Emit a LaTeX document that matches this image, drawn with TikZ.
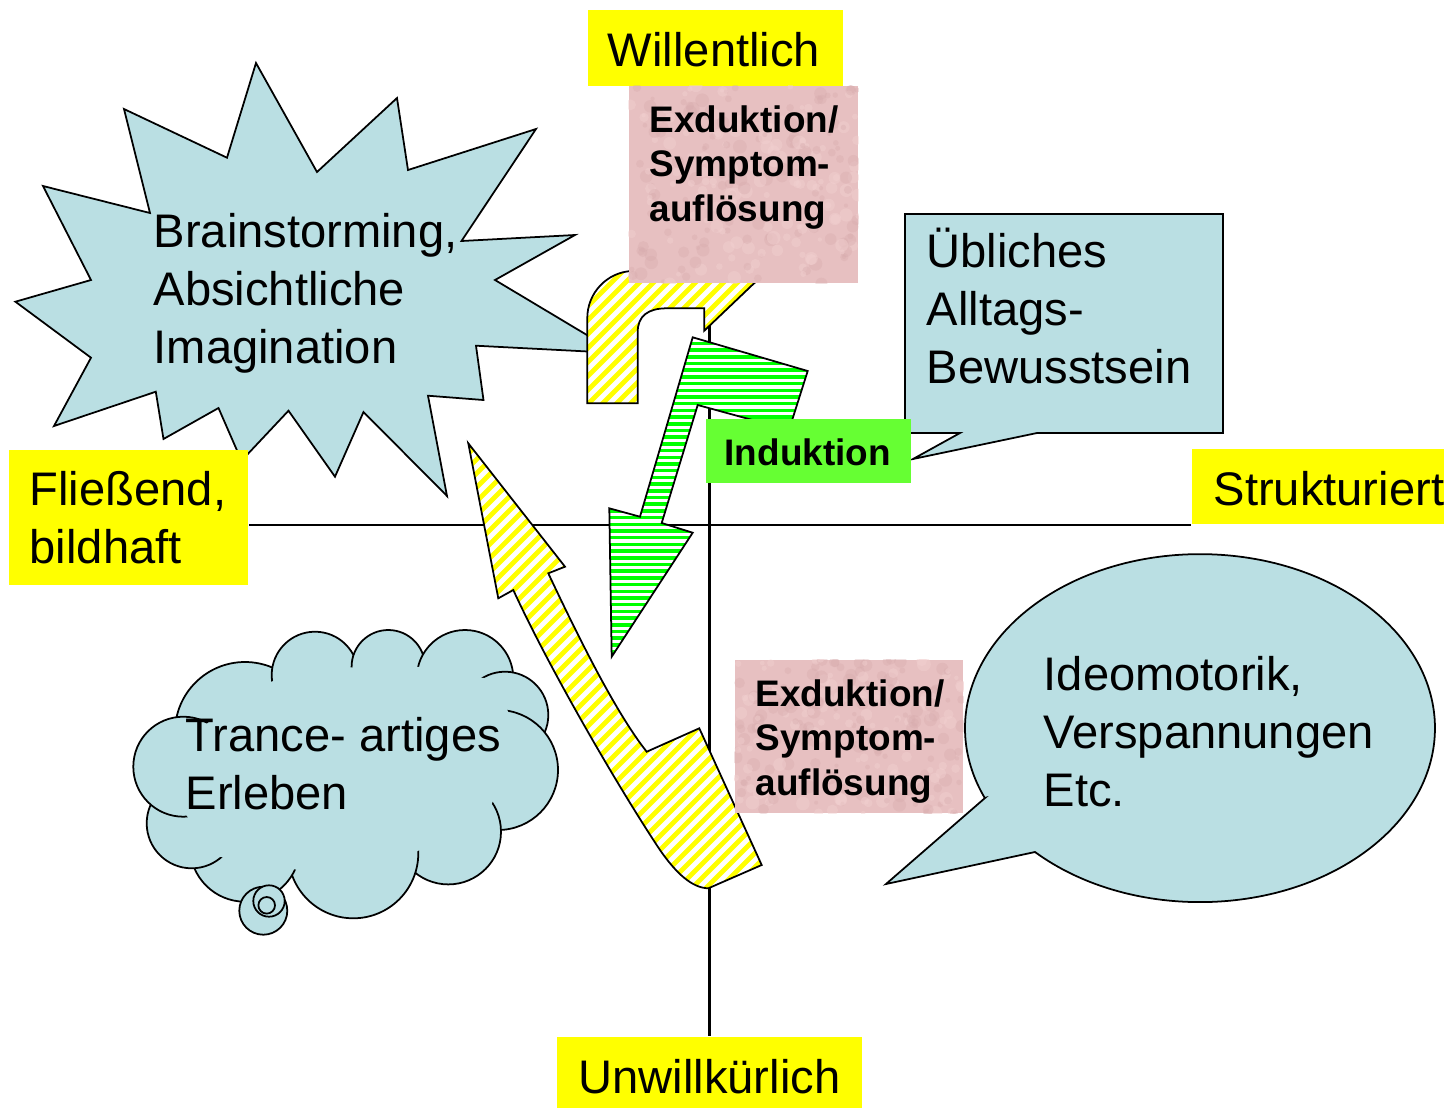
\documentclass[tikz,border=0pt]{standalone}
\usepackage{fontspec}
\setmainfont{Liberation Sans}
\usetikzlibrary{calc}

\definecolor{calloutblue}{RGB}{186,223,227}
\definecolor{labelyellow}{RGB}{255,255,0}
\definecolor{rosefill}{RGB}{231,192,193}
\definecolor{rosedark}{RGB}{214,170,172}
\definecolor{roselight}{RGB}{242,208,208}
\definecolor{indgreen}{RGB}{102,255,51}
\definecolor{stripegreen}{RGB}{0,255,0}

\pgfdeclarelayer{background}
\pgfsetlayers{background,main}

\begin{document}
\begin{tikzpicture}[x=0.01cm,y=-0.01cm,
  shapeline/.style={draw=black, line width=0.5pt, line join=miter},
  bubble/.style={shapeline, fill=calloutblue},
  % diagonal yellow stripes on white
  yhatch/.style={shapeline, fill=white, path picture={
    \foreach \sv in {600,614,...,1750}
      \draw[labelyellow, line width=1.4pt] (\sv,0) -- ({\sv-1200},1200);}},
  % horizontal green stripes on white
  ghatch/.style={shapeline, fill=white, path picture={
    \foreach \sv in {330,336.7,...,665}
      \draw[stripegreen, line width=1.0pt] (590,\sv) -- (830,\sv);}},
  axisline/.style={draw=black, line width=0.6pt},
  labeltag/.style={rectangle, inner sep=0pt, fill=labelyellow},
  rosebox/.style={rectangle, inner sep=0pt, fill=rosefill},
  greenbox/.style={rectangle, inner sep=0pt, fill=indgreen},
  bigtext/.style={inner sep=0pt, anchor=base west, font=\fontsize{13.4}{16.5}\selectfont},
  boldtext/.style={inner sep=0pt, anchor=base west, font=\fontsize{10.5}{12.66}\selectfont\bfseries},
]
\useasboundingbox (0,0) rectangle (1444,1108);

% ---------- starburst ----------
\draw[bubble] (256,63) -- (317,172) -- (397,98) -- (408,170) -- (536,129)
  -- (461.5,241) -- (575,235) -- (495,280) -- (617,353) -- (476,345.7)
  -- (483.5,400) -- (428,395.7) -- (447,496) -- (363.5,412) -- (335,476.7)
  -- (288.5,410.7) -- (241.5,460.7) -- (218.5,408) -- (163.5,439)
  -- (155.8,391.7) -- (54,426) -- (91,357.7) -- (15.4,301.7) -- (91,280)
  -- (43,186) -- (150,213) -- (124,109) -- (227,157.7) -- cycle;

% ---------- thought cloud ----------
\foreach \cx/\cy/\r in {245/732/70, 315/675/43.3, 388.3/666.7/36.7,
  465/678.3/48.3, 505/715/43.3, 498/770/60, 448.3/831.7/52.7,
  353.3/853.3/65, 245/846.7/55, 191.7/823.3/45, 183.3/766.7/50}
  \draw[bubble] (\cx,\cy) circle[radius=\r];
\coordinate (cloudc) at (345,770);
\fill[calloutblue]
  ($(173.3,726.7)!0.12!(cloudc)$) -- ($(271.7,663.3)!0.12!(cloudc)$)
  -- ($(353.3,653.3)!0.12!(cloudc)$) -- ($(421.7,651.7)!0.12!(cloudc)$)
  -- ($(510,666.7)!0.12!(cloudc)$) -- ($(546.7,733.3)!0.12!(cloudc)$)
  -- ($(501.7,830)!0.12!(cloudc)$) -- ($(416.7,866.7)!0.12!(cloudc)$)
  -- ($(290,883.3)!0.12!(cloudc)$) -- ($(191.7,866.7)!0.12!(cloudc)$)
  -- ($(153.3,801.7)!0.12!(cloudc)$) -- cycle;
\draw[bubble] (263.3,910.7) circle[radius=24];
\draw[bubble] (269,901) circle[radius=15.7];
\draw[bubble] (266.7,905.3) circle[radius=8.3];

% ---------- speech callouts ----------
\draw[bubble] (905,214) -- (1223,214) -- (1223,433) -- (1037,433)
  -- (913,459) -- (960,433) -- (905,433) -- cycle;
\draw[bubble] (985,798) -- (886,884) -- (1035,852)
  arc[start angle=134.6, end angle=-203.7, x radius=235, y radius=174] -- cycle;

% ---------- arrows ----------
\draw[yhatch] (587.3,403.3) -- (587.3,318)
  .. controls (587.3,293) and (607,272) .. (632,271)
  -- (700,262) -- (700,240) -- (800,245) -- (753.3,284) -- (704.3,330.7)
  -- (704.3,308.3) -- (666.7,308.3)
  .. controls (648,308.3) and (637.7,316) .. (637.7,332)
  -- (637.7,403.3) -- cycle;
\draw[yhatch] (468.3,443.3) -- (565,566.7) -- (548.3,573.3)
  .. controls (575,630) and (615,712) .. (646.7,751.7)
  -- (699.3,728.3) -- (761.7,865) -- (708.3,888.3)
  .. controls (692,888) and (676,873) .. (660,850)
  .. controls (620,790) and (550,670) .. (513.3,590)
  -- (498.3,598.3) -- cycle;
\draw[ghatch] (692.7,337.3) -- (807.7,371) -- (789,430) -- (697.7,405)
  -- (661.7,523) -- (692.7,532.7) -- (611.7,656.7) -- (609.3,508.3)
  -- (640,516.7) -- cycle;

% ---------- label boxes ----------
\node[labeltag, minimum width=2.55cm, minimum height=0.76cm] (wil) at (715.5,48) {};
\node[labeltag, minimum width=3.05cm, minimum height=0.76cm] (unw) at (709.5,1075) {};
\node[labeltag, minimum width=2.39cm, minimum height=1.35cm] (flie) at (128.5,517.5) {};
\node[labeltag, minimum width=2.72cm, minimum height=0.75cm] (struk) at (1328,486.5) {};
\node[rosebox, minimum width=2.29cm, minimum height=1.97cm] (exdtop) at (743.5,184.5) {};
\node[rosebox, minimum width=2.28cm, minimum height=1.53cm] (exdbot) at (849,736.5) {};
\node[greenbox, minimum width=2.05cm, minimum height=0.64cm] (ind) at (808.5,451) {};

% mottled paper texture on the rose boxes
\pgfmathsetseed{4711}
\foreach \bx in {exdtop,exdbot}{
  \begin{scope}
    \clip (\bx.south west) rectangle (\bx.north east);
    \foreach \k in {1,...,260}{
      \pgfmathsetmacro{\tx}{rnd}
      \pgfmathsetmacro{\ty}{rnd}
      \pgfmathsetmacro{\trad}{2+5*rnd}
      \pgfmathsetmacro{\tc}{rnd}
      \coordinate (tb) at ($(\bx.south west)!\tx!(\bx.south east)$);
      \coordinate (tt) at ($(\bx.north west)!\tx!(\bx.north east)$);
      \ifdim\tc pt<0.5pt
        \fill[rosedark, opacity=0.35] ($(tb)!\ty!(tt)$) circle[radius=\trad];
      \else
        \fill[roselight, opacity=0.45] ($(tb)!\ty!(tt)$) circle[radius=\trad];
      \fi
    }
  \end{scope}
}

% ---------- axes ----------
\begin{pgfonlayer}{background}
  \draw[axisline] (flie.east |- struk.south) -- (struk.south west);
  \draw[axisline] (wil.south -| unw.north) -- (unw.north);
\end{pgfonlayer}

% ---------- texts ----------
\node[bigtext, anchor=base] (wiltxt) at (714,66) {Willentlich};
\node[bigtext, anchor=base] (unwtxt) at (709.5,1093) {Unwillkürlich};
\node[bigtext] (flietxt) at (29,505) {\parbox[t]{5cm}{Fließend,\\bildhaft}};
\node[bigtext] (struktxt) at (1213,505) {Strukturiert};
\node[boldtext] (exdtoptxt) at (649,132) {\parbox[t]{5cm}{Exduktion/\\Symptom-\\auflösung}};
\node[boldtext] (exdbottxt) at (755,706) {\parbox[t]{5cm}{Exduktion/\\Symptom-\\auflösung}};
\node[boldtext] (indtxt) at (724,465) {Induktion};
\node[bigtext] (braintxt) at (153,247) {\parbox[t]{8cm}{Brainstorming,\\Absichtliche\\Imagination}};
\node[bigtext] (trancetxt) at (185,751) {\parbox[t]{8cm}{Trance- artiges\\Erleben}};
\node[bigtext] (alltagtxt) at (926,267) {\parbox[t]{8cm}{Übliches\\Alltags-\\Bewusstsein}};
\node[bigtext] (ideotxt) at (1043,690) {\parbox[t]{8cm}{Ideomotorik,\\Verspannungen\\Etc.}};
\end{tikzpicture}
\end{document}
